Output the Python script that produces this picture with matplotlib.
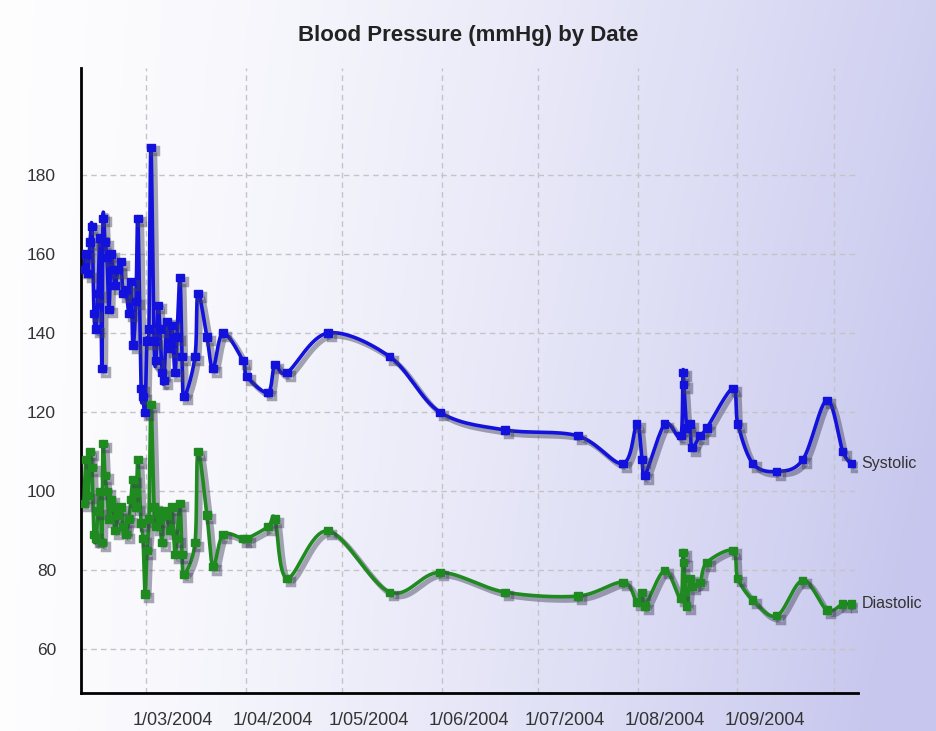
import numpy as np
import pandas as pd
import matplotlib
matplotlib.use("Agg")
import matplotlib.pyplot as plt
import matplotlib.dates as mdates
import matplotlib.patheffects as pe
from matplotlib.transforms import ScaledTranslation

plt.rcParams['font.family'] = ['Liberation Sans', 'DejaVu Sans']

# ---------------- data ----------------
dates = [
    "2004-02-10 17:00", "2004-02-11 08:00", "2004-02-11 23:00", "2004-02-12 14:00",
    "2004-02-13 05:00", "2004-02-13 20:00", "2004-02-14 11:00", "2004-02-15 02:00",
    "2004-02-15 17:00", "2004-02-16 07:00", "2004-02-16 15:00", "2004-02-17 06:00",
    "2004-02-17 21:00", "2004-02-18 12:00", "2004-02-19 03:00", "2004-02-19 18:00",
    "2004-02-20 09:00", "2004-02-21 07:00", "2004-02-22 05:00", "2004-02-22 20:00",
    "2004-02-23 19:00", "2004-02-24 17:00", "2004-02-25 08:00", "2004-02-25 23:00",
    "2004-02-26 21:00", "2004-02-27 12:00", "2004-02-28 11:00", "2004-02-29 02:00",
    "2004-02-29 17:00", "2004-03-01 07:00", "2004-03-01 22:00", "2004-03-02 13:00",
    "2004-03-03 12:00", "2004-03-04 03:00", "2004-03-04 18:00", "2004-03-05 08:00",
    "2004-03-05 23:00", "2004-03-06 14:00", "2004-03-07 13:00", "2004-03-08 11:00",
    "2004-03-09 02:00", "2004-03-10 00:00", "2004-03-10 15:00", "2004-03-11 14:00",
    "2004-03-12 05:00", "2004-03-12 20:00", "2004-03-16 06:00", "2004-03-17 04:00",
    "2004-03-19 23:00", "2004-03-21 20:00", "2004-03-24 23:00", "2004-03-31 04:00",
    "2004-04-01 10:00", "2004-04-07 23:00", "2004-04-10 03:00", "2004-04-13 21:00",
    "2004-04-26 15:00", "2004-05-15 21:00", "2004-05-31 11:00", "2004-06-20 16:00",
    "2004-07-13 09:00", "2004-07-27 09:00", "2004-07-31 17:00", "2004-08-02 07:00",
    "2004-08-03 05:00", "2004-08-09 10:00", "2004-08-14 10:00", "2004-08-15 01:00",
    "2004-08-15 08:00", "2004-08-16 06:00", "2004-08-17 05:00", "2004-08-17 20:00",
    "2004-08-20 08:00", "2004-08-22 12:00", "2004-08-30 14:00", "2004-09-01 03:00",
    "2004-09-05 19:00", "2004-09-13 06:00", "2004-09-21 08:00", "2004-09-28 20:00",
    "2004-10-03 19:00", "2004-10-06 14:00",
]
systolic = [
    156, 160, 155, 163, 167, 145, 141, 150, 164, 131, 169, 163,
    159, 146, 160, 156, 152, 156, 158, 150, 151, 145, 153, 137,
    148, 169, 126, 124, 120, 138, 141, 187, 138, 133, 147, 141,
    130, 128, 143, 136, 142, 130, 139, 154, 134, 124, 134, 150,
    139, 131, 140, 133, 129, 125, 132, 130, 140, 134, 120, 115.5,
    114, 107, 117, 108, 104, 117, 114, 130, 127, 116, 117, 111,
    114, 116, 126, 117, 107, 105, 108, 123, 110, 107,
]
diastolic = [
    97, 108, 99, 110, 106, 89, 88, 95, 100, 87, 112, 104,
    100, 93, 98, 96, 90, 94, 96, 91, 89, 93, 98, 103,
    96, 108, 92, 88, 74, 85, 93, 122, 96, 91, 95, 93,
    87, 95, 94, 90, 96, 84, 88, 97, 84, 79, 87, 110,
    94, 81, 89, 88, 88, 91, 93, 78, 90, 74.5, 79.5, 74.5,
    73.5, 77, 72, 74.5, 71, 80, 73, 84.5, 82, 71, 78, 76,
    77, 82, 85, 78, 72.5, 68.5, 77.5, 70, 71.5, 71.5,
]
series_names = ["Systolic", "Diastolic"]
series_colors = ["#1212dc", "#1f8a1f"]

tick_dates = ["2004-03-01", "2004-04-01", "2004-05-01", "2004-06-01",
              "2004-07-01", "2004-08-01", "2004-09-01", "2004-10-01"]
tick_labels = ["1/03/2004", "1/04/2004", "1/05/2004", "1/06/2004",
               "1/07/2004", "1/08/2004", "1/09/2004", ""]
y_ticks = [60, 80, 100, 120, 140, 160, 180]
title = "Blood Pressure (mmHg) by Date"


def catmull_rom(x, y, n=16):
    P = np.column_stack([x, y]).astype(float)
    out = []
    t = np.linspace(0, 1, n, endpoint=False)[:, None]
    h00 = 2 * t**3 - 3 * t**2 + 1
    h10 = t**3 - 2 * t**2 + t
    h01 = -2 * t**3 + 3 * t**2
    h11 = t**3 - t**2
    for i in range(len(P) - 1):
        p0 = P[i - 1] if i > 0 else P[i]
        p1, p2 = P[i], P[i + 1]
        p3 = P[i + 2] if i + 2 < len(P) else P[i + 1]
        m1 = (p2 - p0) / 2.0
        m2 = (p3 - p1) / 2.0
        dx = p2[0] - p1[0]
        if m1[0] > 3 * dx and m1[0] > 0:
            m1 = m1 * (3 * dx / m1[0])
        if m2[0] > 3 * dx and m2[0] > 0:
            m2 = m2 * (3 * dx / m2[0])
        seg = h00 * p1 + h10 * m1 + h01 * p2 + h11 * m2
        out.append(seg)
    out.append(P[-1][None, :])
    S = np.vstack(out)
    return S[:, 0], S[:, 1]


W, H, DPI = 936, 731, 100
fig = plt.figure(figsize=(W / DPI, H / DPI), dpi=DPI)

# background gradient
bg = fig.add_axes([0, 0, 1, 1], zorder=-10)
gx = np.linspace(0, 1, 300)[None, :]
gy = np.linspace(0, 1, 240)[:, None]
tt = np.clip(0.80 * gx**1.5 + 0.25 * gy * gx + 0.03, 0, 1)
c0 = np.array([255, 255, 255]) / 255.0
c1 = np.array([198, 198, 238]) / 255.0
img = c0[None, None, :] * (1 - tt[..., None]) + c1[None, None, :] * tt[..., None]
bg.imshow(img, aspect='auto', extent=[0, 1, 0, 1], origin='upper')
bg.axis('off')

ax = fig.add_axes([81 / W, 1 - 693 / H, (858 - 81) / W, (693 - 68) / H])
ax.patch.set_alpha(0)

shadow_kw = dict(offset=(2.5, -2.5), shadow_color='#40405a', alpha=0.45)
xnum = mdates.date2num(pd.to_datetime(dates))
for vals, name, col in zip([systolic, diastolic], series_names, series_colors):
    sx, sy = catmull_rom(xnum, np.array(vals, float))
    ax.plot(sx, sy, color=col, lw=2.6, solid_capstyle='round', solid_joinstyle='round', zorder=3,
            path_effects=[pe.SimpleLineShadow(linewidth=3.8, **shadow_kw), pe.Normal()])
    ax.plot(xnum, vals, ls='none', marker='s', ms=5.2, color=col, zorder=4,
            path_effects=[pe.SimpleLineShadow(linewidth=2.5, **shadow_kw), pe.Normal()])
    ax.annotate(name, xy=(xnum[-1], vals[-1]), xytext=(7, 0), textcoords='offset points',
                va='center', ha='left', fontsize=11.5, color='#333333', annotation_clip=False)

ax.set_xlim(mdates.date2num(pd.Timestamp("2004-02-09 19:00")),
            mdates.date2num(pd.Timestamp("2004-10-08 12:00")))
ax.set_ylim(49, 207)

ax.set_xticks(mdates.date2num(pd.to_datetime(tick_dates)))
ax.set_xticklabels(tick_labels)
ax.set_yticks(y_ticks)
ax.tick_params(axis='both', length=0, colors='#333333')
ax.tick_params(axis='y', pad=18, labelsize=12.5)
ax.tick_params(axis='x', pad=14, labelsize=13)
for lbl in ax.get_xticklabels():
    lbl.set_ha('left')
    lbl.set_transform(lbl.get_transform() + ScaledTranslation(-9.5 / 72, 0, fig.dpi_scale_trans))

ax.grid(True, color='#c4c4c8', lw=1.0, ls=(0, (4, 3)))
ax.set_axisbelow(True)
for s in ['top', 'right']:
    ax.spines[s].set_visible(False)
for s in ['left', 'bottom']:
    ax.spines[s].set_linewidth(2.0)
    ax.spines[s].set_color('black')

fig.text(0.5, 1 - 36 / H, title, ha='center', va='center', fontsize=16,
         fontweight='bold', color='#222222')

fig.savefig("out.png", dpi=DPI)
